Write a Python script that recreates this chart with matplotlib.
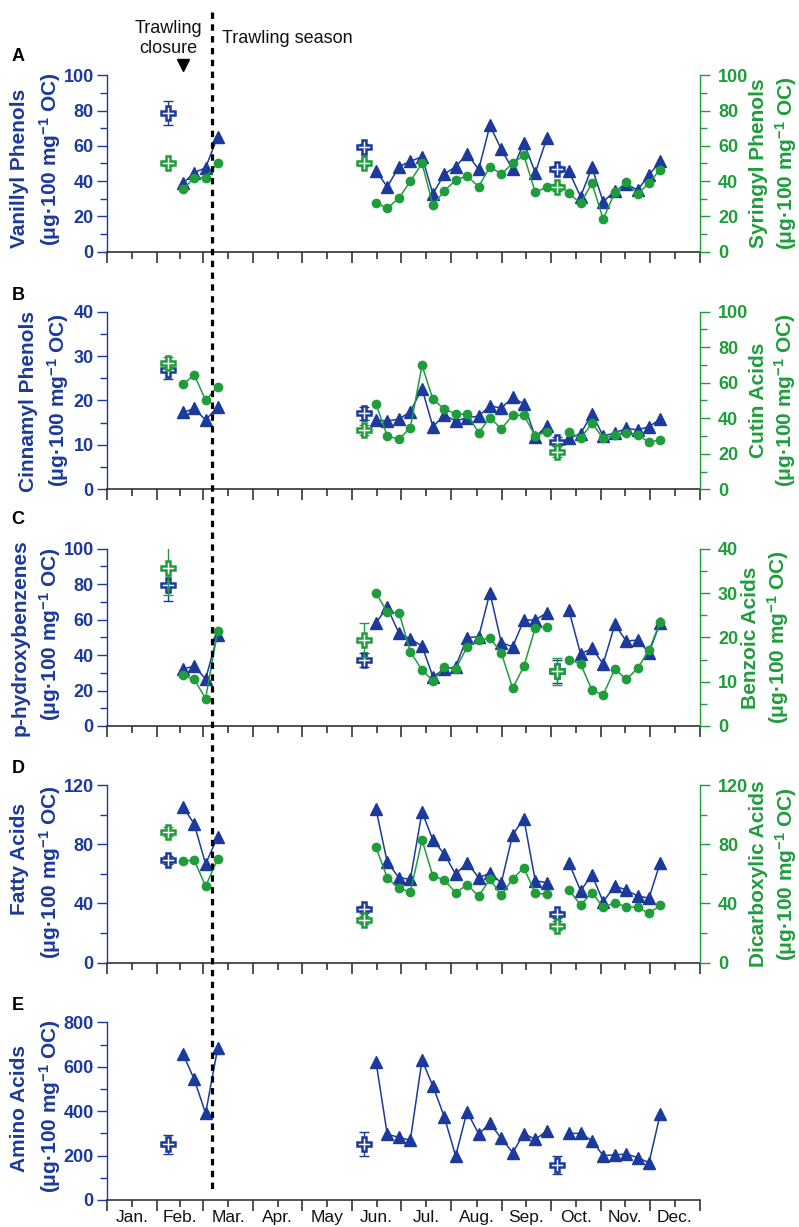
import matplotlib
matplotlib.use('Agg')
import matplotlib.pyplot as plt
from matplotlib.lines import Line2D
from matplotlib.ticker import MultipleLocator, FixedLocator, NullFormatter, FixedFormatter

plt.rcParams['font.family'] = ['Liberation Sans', 'DejaVu Sans']
plt.rcParams['mathtext.fontset'] = 'custom'
plt.rcParams['mathtext.rm'] = 'Liberation Sans'
plt.rcParams['mathtext.bf'] = 'Liberation Sans:bold'
plt.rcParams['mathtext.default'] = 'regular'

# ---------------- data ----------------
sample_days = [46.8, 53.7, 60.7, 68.1,
               165.6, 172.5, 179.7, 186.7, 193.9, 200.6, 207.6, 214.6, 221.6, 228.8,
               235.7, 242.7, 249.7, 256.6, 263.6, 270.8,
               284.3, 291.5, 298.5, 305.4, 312.6, 319.6, 326.6, 333.6, 340.5]
plus_days = [37.3, 158.2, 277.1]

vanillyl = [38.8, 44.8, 47.6, 65.2,
            45.9, 36.7, 48.2, 51.2, 53.9, 32.7, 44.0, 48.2, 55.4, 46.7, 71.6, 58.0, 46.7, 61.8, 44.8, 64.5,
            45.6, 31.2, 47.8, 28.3, 34.4, 38.4, 35.0, 43.5, 51.2]
syringyl = [35.4, 42.0, 42.0, 50.1,
            27.8, 24.6, 30.4, 39.9, 50.1, 26.5, 34.4, 40.6, 42.9, 36.9, 48.2, 44.0, 50.1, 54.6, 33.7, 36.7,
            33.1, 27.4, 38.8, 18.5, 33.7, 39.5, 32.5, 39.1, 46.5]
vanillyl_plus = [78.5, 59.5, 46.9]
vanillyl_err = [6.8, 1.5, 1.5]
syringyl_plus = [50.1, 50.1, 36.5]
syringyl_err = [1.5, 1.5, 2.0]

cinnamyl = [17.3, 18.2, 15.6, 18.6,
            15.6, 15.4, 15.8, 17.5, 22.7, 14.1, 16.7, 15.4, 16.1, 16.5, 18.8, 18.3, 20.7, 19.2, 11.8, 14.3,
            11.5, 12.5, 17.0, 12.0, 12.7, 13.7, 13.4, 14.1, 15.8]
cutin = [59.1, 64.5, 50.1, 57.8,
         47.9, 30.0, 28.2, 34.7, 69.8, 50.7, 45.2, 42.4, 42.2, 31.9, 40.3, 34.1, 41.7, 41.7, 30.0, 32.4,
         32.4, 28.7, 37.2, 28.7, 30.6, 31.5, 30.6, 26.5, 27.9]
cinnamyl_plus = [26.9, 17.1, 10.7]
cinnamyl_err = [2.0, 1.4, 1.0]
cutin_plus = [71.3, 33.4, 21.2]
cutin_err = [3.0, 3.0, 3.0]

phydroxy = [32.1, 33.8, 26.5, 51.3,
            58.3, 66.9, 52.3, 49.1, 45.1, 27.8, 32.0, 33.5, 49.8, 50.4, 75.2, 47.0, 44.7, 59.8, 59.8, 63.9,
            65.4, 40.6, 43.8, 35.0, 57.3, 47.9, 48.5, 41.4, 58.3]
benzoic = [11.5, 10.5, 6.2, 21.5,
           30.0, 25.7, 25.6, 16.8, 12.6, 10.2, 13.2, 12.9, 17.8, 19.3, 19.9, 16.5, 8.5, 13.5, 22.1, 22.3,
           15.0, 14.0, 8.1, 7.0, 12.9, 10.5, 13.0, 17.1, 23.4]
phydroxy_plus = [79.5, 37.2, 31.0]
phydroxy_err = [9.0, 4.2, 6.5]
benzoic_plus = [35.7, 19.4, 12.3]
benzoic_err = [6.2, 3.8, 3.0]

fatty = [105.3, 93.6, 66.6, 85.1,
         103.6, 67.8, 57.4, 56.3, 101.8, 82.8, 73.4, 59.7, 67.5, 57.4, 60.4, 54.0, 86.4, 97.2, 55.4, 54.0,
         67.5, 48.6, 59.2, 41.2, 51.8, 49.1, 45.0, 43.7, 67.5]
dicarb = [68.4, 69.3, 51.6, 70.0,
          77.9, 57.2, 50.2, 47.7, 82.8, 58.5, 55.8, 47.3, 52.5, 45.2, 56.3, 45.5, 56.7, 64.1, 46.8, 46.2,
          49.1, 39.0, 47.3, 37.4, 40.5, 37.6, 37.4, 33.3, 38.8]
fatty_plus = [69.3, 36.0, 32.7]
fatty_err = [2.5, 2.5, 2.5]
dicarb_plus = [88.5, 28.8, 25.0]
dicarb_err = [3.0, 3.0, 3.0]

amino = [657, 543, 390, 683,
         621, 296, 282, 269, 630, 513, 375, 198, 398, 297, 345, 278, 213, 299, 273, 311,
         300, 300, 267, 200, 203, 207, 191, 168, 386]
amino_plus = [251, 252, 158]
amino_err = [43, 52, 40]

month_names = ['Jan.', 'Feb.', 'Mar.', 'Apr.', 'May', 'Jun.', 'Jul.', 'Aug.', 'Sep.', 'Oct.', 'Nov.', 'Dec.']
month_starts = [0, 31, 59, 90, 120, 151, 181, 212, 243, 273, 304, 334, 365]
closure_end_day = 64.6

# ---------------- style ----------------
BLUE = '#1b3a9b'
GREEN = '#1f9d3b'
AXC = '#333333'
W, H = 799, 1227
fig = plt.figure(figsize=(W / 100, H / 100), dpi=100)

def fx(px):
    return px / W

def fy(py):
    return 1 - py / H

AX_L, AX_R = 107, 700
tops = [75.3, 311.7, 548.7, 785.0, 1022.3]
bots = [251.7, 489.3, 726.0, 962.7, 1200.0]
segments = [(0, 4), (4, 20), (20, 29)]
month_mids = [(a + b) / 2 for a, b in zip(month_starts[:-1], month_starts[1:])]

UNIT = '(\u03bcg\u00b7100 mg$^{-1}$ OC)'
LBL_FS = 15
TICK_FS = 13

panels = [
    dict(letter='A', lb=61, left=('Vanillyl Phenols', vanillyl, vanillyl_plus, vanillyl_err, 100, 20, 10),
         right=('Syringyl Phenols', syringyl, syringyl_plus, syringyl_err, 100, 20, 10),
         lx=(20, 50), ly=(168.5, 159), rx=(759, 786)),
    dict(letter='B', lb=300, left=('Cinnamyl Phenols', cinnamyl, cinnamyl_plus, cinnamyl_err, 40, 10, 5),
         right=('Cutin Acids', cutin, cutin_plus, cutin_err, 100, 20, 10),
         lx=(29, 58), ly=(401, 400.5), rx=(759, 785)),
    dict(letter='C', lb=524, left=('p-hydroxybenzenes', phydroxy, phydroxy_plus, phydroxy_err, 100, 20, 10),
         right=('Benzoic Acids', benzoic, benzoic_plus, benzoic_err, 40, 10, 5),
         lx=(20, 50), ly=(637.5, 634), rx=(750, 778)),
    dict(letter='D', lb=773, left=('Fatty Acids', fatty, fatty_plus, fatty_err, 120, 40, 20),
         right=('Dicarboxylic Acids', dicarb, dicarb_plus, dicarb_err, 120, 40, 20),
         lx=(20, 50), ly=(859, 871.7), rx=(759, 786)),
    dict(letter='E', lb=1010, left=('Amino Acids', amino, amino_plus, amino_err, 800, 200, 100),
         right=None, lx=(20, 50), ly=(1109, 1106), rx=None),
]


def draw_series(ax, vals, pv, pe, color, marker, ms, z):
    for a, b in segments:
        ax.plot(sample_days[a:b], vals[a:b], color=color, lw=1.1, marker=marker, ms=ms,
                mec=color, mfc=color, zorder=z, clip_on=False)
    ax.errorbar(plus_days, pv, yerr=pe, fmt='none', ecolor=color, elinewidth=1.0,
                capsize=3.5, capthick=1.0, zorder=z + 1)
    ax.plot(plus_days, pv, ls='none', marker='P', ms=10.5, mfc='white', mec=color,
            mew=1.8, zorder=z + 2)


def style_y(ax, color, top, major, minor, side):
    ax.set_ylim(0, top)
    ax.yaxis.set_major_locator(MultipleLocator(major))
    ax.yaxis.set_minor_locator(MultipleLocator(minor))
    pad = 2.0 if side == 'left' else 5.5
    ax.tick_params(axis='y', which='major', direction='out', length=7.5, width=1.0,
                   color=color, labelcolor=color, labelsize=TICK_FS, pad=pad)
    ax.tick_params(axis='y', which='minor', direction='out', length=5, width=1.0, color=color)
    for t in ax.get_yticklabels():
        t.set_fontweight('bold')
    ax.spines[side].set_color(color)
    ax.spines[side].set_linewidth(1.0)


for i, p in enumerate(panels):
    ax = fig.add_axes([fx(AX_L), fy(bots[i]), (AX_R - AX_L) / W, (bots[i] - tops[i]) / H])
    ax.set_facecolor('none')
    ax.set_xlim(0, 365)
    for s in ['top', 'right']:
        ax.spines[s].set_visible(False)
    ax.spines['bottom'].set_color(AXC)
    ax.spines['bottom'].set_linewidth(1.2)
    ax.xaxis.set_major_locator(FixedLocator(month_starts))
    ax.xaxis.set_minor_locator(FixedLocator(month_mids))
    ax.xaxis.set_major_formatter(NullFormatter())
    ax.tick_params(axis='x', which='major', direction='out', length=8, width=1.2, color=AXC)
    if i == len(panels) - 1:
        ax.xaxis.set_minor_formatter(FixedFormatter(month_names))
        ax.tick_params(axis='x', which='minor', direction='out', length=5, width=1.2, color=AXC,
                       labelsize=12.5, labelcolor='#111111', pad=2)
    else:
        ax.xaxis.set_minor_formatter(NullFormatter())
        ax.tick_params(axis='x', which='minor', direction='out', length=5, width=1.2, color=AXC)

    lname, lvals, lplus, lerr, ltop, lmaj, lmin = p['left']
    style_y(ax, BLUE, ltop, lmaj, lmin, 'left')

    if p['right'] is not None:
        rname, rvals, rplus, rerr, rtop, rmaj, rmin = p['right']
        axr = ax.twinx()
        for s in ['top', 'left', 'bottom']:
            axr.spines[s].set_visible(False)
        style_y(axr, GREEN, rtop, rmaj, rmin, 'right')
        draw_series(ax, lvals, lplus, lerr, BLUE, '^', 8.5, 3)
        draw_series(axr, rvals, rplus, rerr, GREEN, 'o', 6, 3)
        fig.text(fx(p['rx'][0]), fy(tops[i] / 2 + bots[i] / 2), rname, rotation=90, ha='center',
                 va='center', fontsize=LBL_FS, fontweight='bold', color=GREEN)
        fig.text(fx(p['rx'][1]), fy(tops[i] / 2 + bots[i] / 2), UNIT, rotation=90, ha='center',
                 va='center', fontsize=LBL_FS, fontweight='bold', color=GREEN)
    else:
        draw_series(ax, lvals, lplus, lerr, BLUE, '^', 8.5, 3)

    fig.text(fx(p['lx'][0]), fy(p['ly'][0]), lname, rotation=90, ha='center', va='center',
             fontsize=LBL_FS, fontweight='bold', color=BLUE)
    fig.text(fx(p['lx'][1]), fy(p['ly'][1]), UNIT, rotation=90, ha='center', va='center',
             fontsize=LBL_FS, fontweight='bold', color=BLUE)
    fig.text(fx(11.5), fy(p['lb']), p['letter'], ha='left', va='baseline', fontsize=13,
             fontweight='bold', color='black')

# dashed line marking the end of the trawling closure
xline = AX_L + (AX_R - AX_L) * closure_end_day / 365
fig.add_artist(Line2D([fx(xline), fx(xline)], [fy(12), fy(1189)], transform=fig.transFigure,
                      color='black', lw=2.3, ls=(0, (2.0, 1.7))))

# header annotations
fig.text(fx(168.5), fy(32.7), 'Trawling', ha='center', va='baseline', fontsize=13, color='#111111')
fig.text(fx(168.5), fy(52.7), 'closure', ha='center', va='baseline', fontsize=13, color='#111111')
fig.text(fx(222), fy(42.7), 'Trawling season', ha='left', va='baseline', fontsize=13, color='#111111')
fig.add_artist(Line2D([fx(183)], [fy(65)], transform=fig.transFigure, marker='v', ms=8.5,
                      color='black', ls='none'))

fig.savefig('out.png', dpi=100)
